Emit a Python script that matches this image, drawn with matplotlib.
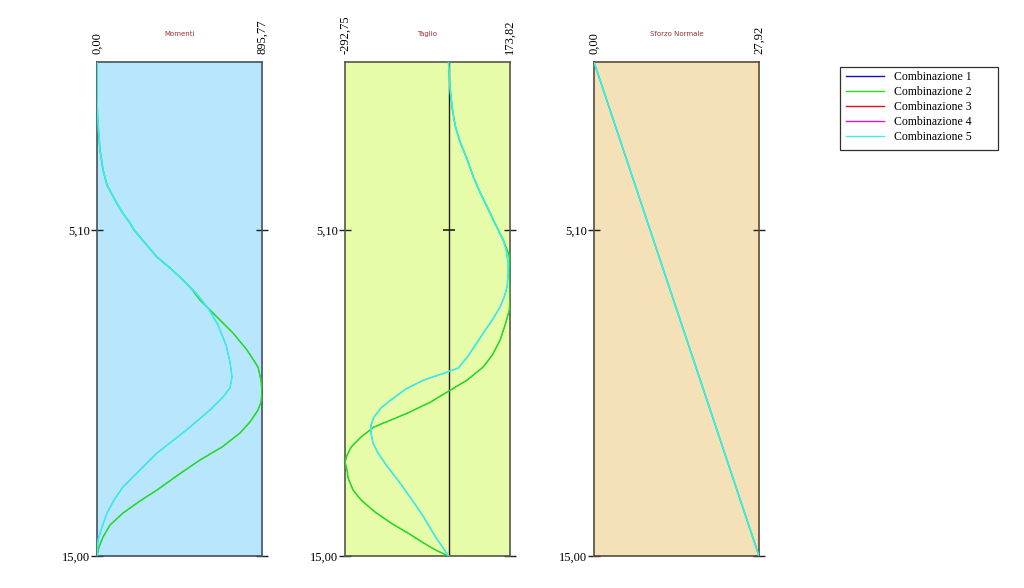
import numpy as np
import matplotlib.pyplot as plt
from matplotlib.patches import Rectangle

# combination names and colours
combos = ['Combinazione 1', 'Combinazione 2', 'Combinazione 3', 'Combinazione 4', 'Combinazione 5']
combo_colors = ['#1010d0', '#22dd22', '#e01010', '#e010e0', '#38eeee']

# Momenti (depth m, value)
mom_depth_a = [0.00, 1.154, 1.609, 2.065, 2.672, 3.279, 3.735, 4.190, 4.555, 4.889, 5.101,
               5.496, 5.921, 6.255, 6.620, 7.014, 7.470, 7.986, 8.593, 9.110, 9.565,
               9.899, 10.172, 10.567, 11.083, 11.448, 11.873, 12.389, 12.905, 13.300,
               13.695, 14.120, 14.515, 15.000]
mom_val_a = [0, 0, 2.7, 8.1, 16.3, 32.6, 54.3, 97.7, 135.7, 179.2, 200.9,
             260.6, 325.7, 396.3, 466.9, 537.5, 602.6, 656.9, 700.3, 722.1, 732.9,
             722.1, 684.1, 613.5, 504.9, 423.5, 325.7, 233.4, 141.2, 92.3,
             54.3, 27.1, 5.4, 0]
mom_depth_b = [0.00, 1.154, 1.609, 2.065, 2.672, 3.279, 3.735, 4.190, 4.555, 4.889, 5.101,
               5.496, 5.921, 6.255, 6.620, 6.900, 7.227, 7.743, 8.229, 8.745, 9.261, 9.656,
               10.020, 10.324, 10.567, 10.931, 11.266, 11.691, 12.085, 12.541, 12.996,
               13.330, 13.695, 14.059, 14.423, 14.727, 15.000]
mom_val_b = [0, 0, 2.7, 8.1, 16.3, 32.6, 54.3, 97.7, 135.7, 179.2, 200.9,
             260.6, 325.7, 396.3, 466.9, 515.0, 559.2, 651.5, 738.3, 814.4, 874.1, 890.4,
             895.77, 890.4, 874.1, 830.6, 776.3, 678.6, 559.2, 439.7, 325.7,
             233.4, 141.2, 70.6, 32.6, 10.9, 0]

# Taglio
tag_depth_a = [0.000, 0.547, 0.941, 1.458, 1.974, 2.460, 2.976, 3.492, 3.978, 4.403, 4.798,
               5.162, 5.405, 5.709, 6.103, 6.468, 6.832, 7.136, 7.439, 7.834, 8.229, 8.593,
               8.958, 9.170, 9.292, 9.353, 9.413, 9.535, 9.656, 9.929, 10.263, 10.506,
               10.780, 11.023, 11.266, 11.569, 11.873, 12.268, 12.693, 13.239, 13.816,
               14.424, 15.000]
tag_val_a = [0, 2.8, 5.6, 11.2, 19.7, 33.7, 53.4, 70.3, 89.9, 109.6, 126.5,
             143.3, 154.6, 163.0, 168.6, 168.6, 165.8, 157.4, 146.1, 123.6, 98.4, 75.9,
             53.4, 36.5, 28.1, 11.2, -2.8, -36.5, -70.3, -120.8, -163.0, -191.1,
             -210.8, -219.2, -219.2, -213.6, -199.5, -174.2, -143.3, -106.8, -70.3,
             -36.5, 0]
tag_depth_b = [0.000, 0.547, 0.941, 1.458, 1.974, 2.460, 2.976, 3.492, 3.978, 4.403, 4.798,
               5.162, 5.405, 5.709, 5.860, 6.255, 7.227, 7.531, 7.986, 8.442, 8.897, 9.261,
               9.656, 9.960, 10.324, 10.658, 10.871, 11.083, 11.387, 11.691, 11.934,
               12.146, 12.389, 12.632, 12.996, 13.300, 13.664, 13.998, 14.302, 14.606,
               14.820, 15.000]
tag_val_b = [0, 2.8, 5.6, 11.2, 19.7, 33.7, 53.4, 70.3, 89.9, 109.6, 126.5,
             143.3, 154.6, 165.8, 171.4, 173.82, 173.82, 172.0, 160.0, 146.0, 124.0, 98.0,
             53.0, 5.6, -50.6, -115.2, -163.0, -210.8, -247.3, -275.4, -286.7,
             -292.75, -287.0, -284.0, -270.0, -247.3, -208.0, -163.0, -115.0, -70.3,
             -36.5, 0]

# Sforzo Normale
sn_depth = [0.0, 15.0]
sn_val = [0.0, 27.92]

panels = [
    dict(title='Momenti', xlim=(0.0, 895.77), xlabels=['0,00', '895,77'],
         face='#b8e6fc', edge='#44525e', left=97,
         series=[(mom_depth_b, mom_val_b), (mom_depth_b, mom_val_b), (mom_depth_a, mom_val_a),
                 (mom_depth_a, mom_val_a), (mom_depth_a, mom_val_a)]),
    dict(title='Taglio', xlim=(-292.75, 173.82), xlabels=['-292,75', '173,82'],
         face='#e6fca8', edge='#55574a', left=345,
         series=[(tag_depth_b, tag_val_b), (tag_depth_b, tag_val_b), (tag_depth_a, tag_val_a),
                 (tag_depth_a, tag_val_a), (tag_depth_a, tag_val_a)]),
    dict(title='Sforzo Normale', xlim=(0.0, 27.92), xlabels=['0,00', '27,92'],
         face='#f5e1b8', edge='#5a4a3a', left=594,
         series=[(sn_depth, sn_val)] * 5),
]

W, H = 1024, 588
fig = plt.figure(figsize=(W / 100, H / 100), dpi=100)
serif = 'Liberation Serif'
# hidden combinations sit under the visible ones
zorders = [2, 3, 2, 2, 4]
widths = [0.4, 1.1, 0.4, 0.4, 1.2]

for p in panels:
    ax = fig.add_axes([p['left'] / W, 1 - 556 / H, 165 / W, 494 / H])
    ax.set_facecolor(p['face'])
    for s in ax.spines.values():
        s.set_color(p['edge'])
        s.set_linewidth(1.2)
    for (d, v), c, z, lw in zip(p['series'], combo_colors, zorders, widths):
        ax.plot(v, d, color=c, lw=lw, zorder=z)
    if p['xlim'][0] < 0 < p['xlim'][1]:
        ax.axvline(0, color='#202020', lw=1.0, zorder=1.5)
        ax.plot([0], [5.10], marker='_', color='#202020', ms=8, mew=1.2)
    ax.set_xlim(*p['xlim'])
    ax.set_ylim(15, 0)
    ax.xaxis.tick_top()
    ax.set_xticks(p['xlim'])
    ax.set_xticklabels(p['xlabels'], rotation=90, fontfamily=serif, fontsize=9)
    ax.tick_params(axis='x', length=0, pad=6)
    ax.set_yticks([5.10, 15.00])
    ax.set_yticklabels(['5,10', '15,00'], fontfamily=serif, fontsize=9)
    ax.tick_params(axis='y', direction='inout', length=8, width=1, color='#202020',
                   left=True, right=True, pad=1)
    ax.text(0.5, 1 + 28 / 494, p['title'], transform=ax.transAxes, ha='center',
            va='center', fontsize=5, color='#993333')

handles = [plt.Line2D([], [], color=c, lw=1.0) for c in combo_colors]
leg = fig.legend(handles, combos, loc='upper left', bbox_to_anchor=(846 / W, 1 - 71 / H),
                 borderaxespad=0, frameon=False,
                 prop={'family': serif, 'size': 8.5}, handlelength=3.2,
                 labelspacing=0.26, borderpad=0.0, handletextpad=0.9)
fig.patches.append(Rectangle((840 / W, 1 - 150 / H), 158 / W, 83 / H, transform=fig.transFigure,
                             facecolor='none', edgecolor='#303030', lw=0.9))

fig.savefig('out.png', dpi=100)
